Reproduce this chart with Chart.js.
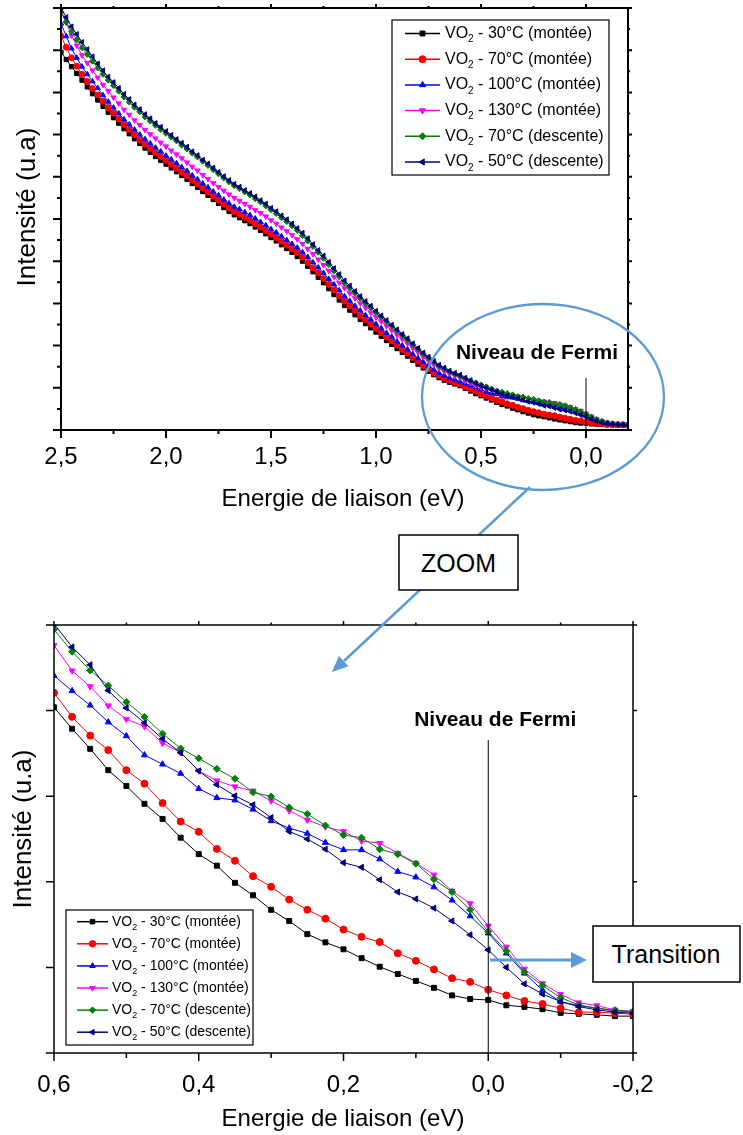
<!DOCTYPE html>
<html>
<head>
<meta charset="utf-8">
<script src="https://cdn.jsdelivr.net/npm/chart.js@4.4.0/dist/chart.umd.min.js"></script>
<style>
html, body { margin: 0; padding: 0; background: #fff; }
#page { position: relative; width: 743px; height: 1135px; overflow: hidden; }
#full { position: absolute; left: 0; top: 0; }
#zoom { position: absolute; left: 0; top: 600px; }
#notes { position: absolute; left: 0; top: 0; }
</style>
</head>
<body>
<div id="page">
<canvas id="full" width="743" height="520"></canvas>
<canvas id="zoom" width="743" height="535"></canvas>
<svg id="notes" width="743" height="1135" viewBox="0 0 743 1135">
  <ellipse cx="543" cy="397" rx="121" ry="93" fill="none" stroke="#5b9bd5" stroke-width="2.3"/>
  <line x1="530" y1="487" x2="344" y2="661" stroke="#5b9bd5" stroke-width="2.5"/>
  <polygon points="332,672 348.5,666.2 338.9,656" fill="#5b9bd5"/>
  <rect x="399" y="535" width="119" height="55" fill="#fff" stroke="#000" stroke-width="1.5"/>
  <text x="458.5" y="572" text-anchor="middle" font-family="Liberation Sans, Arial, sans-serif" font-size="25">ZOOM</text>
  <line x1="490" y1="960" x2="573" y2="960" stroke="#5b9bd5" stroke-width="3"/>
  <polygon points="587,960 571,952 571,968" fill="#5b9bd5"/>
  <rect x="593" y="926" width="147" height="56" fill="#fff" stroke="#000" stroke-width="1.5"/>
  <text x="666" y="963" text-anchor="middle" font-family="Liberation Sans, Arial, sans-serif" font-size="25">Transition</text>
</svg>
</div>
<script>
// binding energy (eV), one point every 0.025 eV
const energy = [
  2.5, 2.475, 2.45, 2.425, 2.4, 2.375, 2.35, 2.325, 2.3, 2.275,
  2.25, 2.225, 2.2, 2.175, 2.15, 2.125, 2.1, 2.075, 2.05, 2.025,
  2.0, 1.975, 1.95, 1.925, 1.9, 1.875, 1.85, 1.825, 1.8, 1.775,
  1.75, 1.725, 1.7, 1.675, 1.65, 1.625, 1.6, 1.575, 1.55, 1.525,
  1.5, 1.475, 1.45, 1.425, 1.4, 1.375, 1.35, 1.325, 1.3, 1.275,
  1.25, 1.225, 1.2, 1.175, 1.15, 1.125, 1.1, 1.075, 1.05, 1.025,
  1.0, 0.975, 0.95, 0.925, 0.9, 0.875, 0.85, 0.825, 0.8, 0.775,
  0.75, 0.725, 0.7, 0.675, 0.65, 0.625, 0.6, 0.575, 0.55, 0.525,
  0.5, 0.475, 0.45, 0.425, 0.4, 0.375, 0.35, 0.325, 0.3, 0.275,
  0.25, 0.225, 0.2, 0.175, 0.15, 0.125, 0.1, 0.075, 0.05, 0.025,
  0.0, -0.025, -0.05, -0.075, -0.1, -0.125, -0.15, -0.175, -0.2
];

const vo2_30_montee = [
  8.95, 8.78, 8.61, 8.45, 8.29, 8.13, 7.97, 7.82, 7.67, 7.53,
  7.40, 7.27, 7.14, 7.02, 6.90, 6.79, 6.68, 6.58, 6.48, 6.39,
  6.30, 6.21, 6.12, 6.03, 5.94, 5.84, 5.75, 5.65, 5.56, 5.46,
  5.37, 5.27, 5.18, 5.10, 5.03, 4.96, 4.89, 4.81, 4.73, 4.65,
  4.56, 4.48, 4.39, 4.30, 4.21, 4.11, 4.00, 3.88, 3.75, 3.62,
  3.49, 3.35, 3.21, 3.08, 2.95, 2.84, 2.73, 2.62, 2.52, 2.42,
  2.32, 2.22, 2.12, 2.03, 1.93, 1.84, 1.75, 1.65, 1.56, 1.47,
  1.39, 1.31, 1.24, 1.18, 1.13, 1.09, 1.050, 0.985, 0.924, 0.859,
  0.811, 0.757, 0.711, 0.654, 0.604, 0.569, 0.517, 0.479, 0.435, 0.401,
  0.361, 0.336, 0.315, 0.288, 0.262, 0.240, 0.219, 0.198, 0.175, 0.164,
  0.161, 0.145, 0.140, 0.133, 0.122, 0.119, 0.116, 0.112, 0.112
];
const vo2_70_montee = [
  9.33, 9.07, 8.82, 8.62, 8.43, 8.26, 8.09, 7.94, 7.79, 7.64,
  7.51, 7.37, 7.24, 7.12, 7.00, 6.88, 6.77, 6.67, 6.57, 6.48,
  6.39, 6.30, 6.20, 6.11, 6.02, 5.92, 5.83, 5.73, 5.64, 5.54,
  5.45, 5.35, 5.26, 5.18, 5.11, 5.04, 4.97, 4.89, 4.81, 4.73,
  4.64, 4.56, 4.47, 4.38, 4.29, 4.20, 4.09, 3.97, 3.84, 3.72,
  3.59, 3.45, 3.32, 3.18, 3.05, 2.94, 2.83, 2.71, 2.61, 2.51,
  2.41, 2.30, 2.20, 2.11, 2.01, 1.91, 1.82, 1.72, 1.63, 1.53,
  1.45, 1.36, 1.29, 1.23, 1.18, 1.13, 1.094, 1.021, 0.964, 0.920,
  0.859, 0.818, 0.759, 0.703, 0.672, 0.620, 0.584, 0.537, 0.505, 0.466,
  0.435, 0.408, 0.375, 0.353, 0.337, 0.303, 0.280, 0.254, 0.227, 0.216,
  0.192, 0.175, 0.158, 0.149, 0.136, 0.124, 0.124, 0.121, 0.118
];
const vo2_100_montee = [
  9.63, 9.33, 9.04, 8.82, 8.61, 8.43, 8.26, 8.10, 7.93, 7.78,
  7.64, 7.50, 7.36, 7.24, 7.12, 7.00, 6.89, 6.79, 6.69, 6.60,
  6.50, 6.41, 6.32, 6.23, 6.14, 6.03, 5.94, 5.84, 5.75, 5.65,
  5.56, 5.46, 5.37, 5.29, 5.23, 5.16, 5.09, 5.01, 4.93, 4.85,
  4.76, 4.68, 4.59, 4.50, 4.41, 4.32, 4.21, 4.10, 3.97, 3.85,
  3.72, 3.58, 3.45, 3.31, 3.17, 3.06, 2.94, 2.83, 2.72, 2.62,
  2.51, 2.41, 2.30, 2.21, 2.10, 2.00, 1.91, 1.80, 1.70, 1.61,
  1.52, 1.43, 1.35, 1.29, 1.23, 1.19, 1.146, 1.100, 1.056, 1.005,
  0.963, 0.905, 0.877, 0.849, 0.803, 0.775, 0.768, 0.740, 0.705, 0.683,
  0.667, 0.639, 0.617, 0.617, 0.589, 0.551, 0.534, 0.504, 0.464, 0.416,
  0.364, 0.303, 0.242, 0.191, 0.156, 0.144, 0.136, 0.128, 0.126
];
const vo2_130_montee = [
  9.95, 9.65, 9.35, 9.11, 8.88, 8.70, 8.52, 8.35, 8.18, 8.03,
  7.88, 7.74, 7.59, 7.47, 7.34, 7.23, 7.11, 7.01, 6.91, 6.81,
  6.72, 6.62, 6.53, 6.44, 6.34, 6.24, 6.15, 6.04, 5.95, 5.85,
  5.76, 5.67, 5.58, 5.50, 5.43, 5.36, 5.29, 5.21, 5.14, 5.06,
  4.97, 4.89, 4.80, 4.71, 4.62, 4.52, 4.41, 4.29, 4.17, 4.04,
  3.91, 3.77, 3.63, 3.49, 3.36, 3.24, 3.12, 3.00, 2.89, 2.78,
  2.67, 2.57, 2.46, 2.36, 2.25, 2.15, 2.05, 1.94, 1.84, 1.73,
  1.64, 1.55, 1.46, 1.39, 1.33, 1.28, 1.238, 1.161, 1.113, 1.055,
  1.014, 0.992, 0.941, 0.913, 0.857, 0.827, 0.809, 0.796, 0.766, 0.736,
  0.708, 0.687, 0.673, 0.644, 0.637, 0.607, 0.577, 0.541, 0.492, 0.454,
  0.386, 0.322, 0.255, 0.211, 0.178, 0.153, 0.144, 0.131, 0.126
];
const vo2_70_descente = [
  9.90, 9.67, 9.44, 9.25, 9.06, 8.90, 8.74, 8.58, 8.43, 8.29,
  8.16, 8.03, 7.89, 7.77, 7.65, 7.54, 7.42, 7.32, 7.22, 7.12,
  7.03, 6.94, 6.85, 6.75, 6.66, 6.56, 6.47, 6.37, 6.27, 6.17,
  6.07, 5.97, 5.88, 5.79, 5.72, 5.64, 5.57, 5.48, 5.40, 5.31,
  5.22, 5.13, 5.03, 4.94, 4.84, 4.73, 4.61, 4.48, 4.35, 4.21,
  4.07, 3.92, 3.77, 3.63, 3.48, 3.36, 3.24, 3.12, 3.00, 2.89,
  2.78, 2.67, 2.56, 2.46, 2.34, 2.24, 2.13, 2.02, 1.91, 1.80,
  1.71, 1.61, 1.52, 1.45, 1.38, 1.33, 1.286, 1.219, 1.162, 1.116,
  1.066, 1.021, 0.970, 0.925, 0.895, 0.863, 0.833, 0.792, 0.779, 0.746,
  0.726, 0.691, 0.662, 0.654, 0.619, 0.604, 0.575, 0.528, 0.489, 0.435,
  0.369, 0.310, 0.246, 0.205, 0.168, 0.146, 0.136, 0.130, 0.126
];
const vo2_50_descente = [
  10.00, 9.78, 9.56, 9.38, 9.19, 9.02, 8.85, 8.68, 8.52, 8.37,
  8.24, 8.10, 7.96, 7.84, 7.71, 7.60, 7.48, 7.38, 7.27, 7.18,
  7.08, 6.99, 6.89, 6.80, 6.71, 6.60, 6.51, 6.40, 6.31, 6.21,
  6.11, 6.01, 5.92, 5.83, 5.76, 5.68, 5.61, 5.53, 5.44, 5.36,
  5.26, 5.18, 5.08, 4.99, 4.89, 4.78, 4.67, 4.54, 4.40, 4.26,
  4.13, 3.98, 3.83, 3.69, 3.54, 3.42, 3.29, 3.17, 3.05, 2.94,
  2.82, 2.71, 2.60, 2.49, 2.38, 2.27, 2.17, 2.05, 1.94, 1.83,
  1.73, 1.63, 1.54, 1.47, 1.40, 1.35, 1.304, 1.233, 1.179, 1.101,
  1.048, 1.003, 0.954, 0.912, 0.857, 0.815, 0.781, 0.754, 0.715, 0.673,
  0.650, 0.619, 0.578, 0.564, 0.526, 0.489, 0.468, 0.440, 0.401, 0.359,
  0.313, 0.260, 0.210, 0.179, 0.156, 0.141, 0.131, 0.124, 0.121
];

const seriesLabels = ['30°C (montée)', '70°C (montée)', '100°C (montée)',
  '130°C (montée)', '70°C (descente)', '50°C (descente)'];

// tick values
const fullXMajor = [2.5, 2.0, 1.5, 1.0, 0.5, 0.0];
const fullXMinor = [2.25, 1.75, 1.25, 0.75, 0.25];
const fullYMajor = [0, 1, 2, 3, 4, 5, 6, 7, 8, 9, 10];
const fullYMinor = [0.5, 1.5, 2.5, 3.5, 4.5, 5.5, 6.5, 7.5, 8.5, 9.5];
const zoomXMajor = [0.6, 0.4, 0.2, 0.0, -0.2];
const zoomXMinor = [0.5, 0.3, 0.1, -0.1];
const zoomYMajor = [0, 0.26, 0.52, 0.78, 1.04, 1.3];

const series = [vo2_30_montee, vo2_70_montee, vo2_100_montee, vo2_130_montee, vo2_70_descente, vo2_50_descente];
const colors = ['#000000', '#ff0000', '#0000ff', '#ff00ff', '#008000', '#000080'];
const shapes = ['rect', 'circle', 'triangle', 'triangle', 'rectRot', 'triangle'];
const rotations = [0, 0, 0, 180, 0, 270];
const FONT = '"Liberation Sans", Arial, sans-serif';

function fmt(v) {
  return v.toFixed(1).replace('.', ',');
}

function buildDatasets(radius) {
  return series.map((vals, i) => ({
    label: 'VO2 - ' + seriesLabels[i],
    data: energy.map((e, j) => ({x: e, y: vals[j]})),
    borderColor: colors[i],
    backgroundColor: colors[i],
    borderWidth: 1,
    pointStyle: shapes[i],
    pointRotation: rotations[i],
    pointRadius: radius,
    pointBorderWidth: 1,
    order: 5 - i
  }));
}

// frame, ticks, tick labels and axis titles
const axesFrame = {
  id: 'axesFrame',
  afterDraw(chart, args, o) {
    const {ctx, chartArea: a, scales: {x, y}} = chart;
    ctx.save();
    ctx.strokeStyle = '#000';
    ctx.lineWidth = o.lineWidth;
    ctx.strokeRect(a.left, a.top, a.right - a.left, a.bottom - a.top);
    ctx.beginPath();
    const xt = o.xMajor.map(v => [v, o.majorLen]).concat(o.xMinor.map(v => [v, o.minorLen]));
    xt.forEach(([v, len]) => {
      const px = x.getPixelForValue(v);
      ctx.moveTo(px, a.bottom); ctx.lineTo(px, a.bottom + len);
      ctx.moveTo(px, a.top); ctx.lineTo(px, a.top - len * 0.5);
    });
    const yt = o.yMajor.map(v => [v, o.yMajorLen]).concat(o.yMinor.map(v => [v, o.minorLen]));
    yt.forEach(([v, len]) => {
      const py = y.getPixelForValue(v);
      ctx.moveTo(a.left, py); ctx.lineTo(a.left - len, py);
      ctx.moveTo(a.right, py); ctx.lineTo(a.right + len * 0.5, py);
    });
    ctx.stroke();

    ctx.fillStyle = '#000';
    ctx.font = '24px ' + FONT;
    ctx.textAlign = 'center';
    ctx.textBaseline = 'alphabetic';
    o.xMajor.forEach(v => {
      ctx.fillText(fmt(v), x.getPixelForValue(v), a.bottom + o.labelBase);
    });
    ctx.fillText('Energie de liaison (eV)', o.xTitleX, a.bottom + o.xTitleBase);
    ctx.font = '26px ' + FONT;
    ctx.translate(o.yTitleX, o.yTitleY);
    ctx.rotate(-Math.PI / 2);
    ctx.textBaseline = 'middle';
    ctx.fillText('Intensité (u.a)', 0, 0);
    ctx.restore();
  }
};

// Fermi level marker
const fermi = {
  id: 'fermi',
  afterDatasetsDraw(chart, args, o) {
    const {ctx, chartArea: a, scales: {x}} = chart;
    const px = x.getPixelForValue(0);
    ctx.save();
    ctx.strokeStyle = '#000';
    ctx.lineWidth = 1;
    ctx.beginPath();
    ctx.moveTo(px, o.lineTop);
    ctx.lineTo(px, a.bottom);
    ctx.stroke();
    ctx.fillStyle = '#000';
    ctx.font = 'bold 21px ' + FONT;
    ctx.textAlign = 'center';
    ctx.textBaseline = 'alphabetic';
    ctx.fillText('Niveau de Fermi', px + o.textDx, o.textBase);
    ctx.restore();
  }
};

// legend with a subscript 2 in VO2
const vo2Legend = {
  id: 'vo2Legend',
  afterDraw(chart, args, o) {
    const ctx = chart.ctx;
    ctx.save();
    ctx.fillStyle = '#fff';
    ctx.fillRect(o.left, o.top, o.width, o.height);
    ctx.strokeStyle = '#000';
    ctx.lineWidth = 1.2;
    ctx.strokeRect(o.left, o.top, o.width, o.height);
    chart.data.datasets.forEach((ds, i) => {
      const yy = o.rowY + i * o.rowStep;
      ctx.strokeStyle = ds.borderColor;
      ctx.lineWidth = 1.5;
      ctx.beginPath();
      ctx.moveTo(o.lineX0, yy);
      ctx.lineTo(o.lineX1, yy);
      ctx.stroke();
      ctx.fillStyle = ds.backgroundColor;
      ctx.lineWidth = 1;
      Chart.helpers.drawPoint(ctx, {pointStyle: ds.pointStyle, rotation: ds.pointRotation,
        radius: o.radius, borderWidth: 1}, (o.lineX0 + o.lineX1) / 2, yy);
      ctx.fillStyle = '#000';
      ctx.textAlign = 'left';
      ctx.textBaseline = 'middle';
      let tx = o.textX;
      ctx.font = o.size + 'px ' + FONT;
      ctx.fillText('VO', tx, yy);
      tx += ctx.measureText('VO').width;
      ctx.font = Math.round(o.size * 0.62) + 'px ' + FONT;
      ctx.fillText('2', tx, yy + o.size * 0.38);
      tx += ctx.measureText('2').width;
      ctx.font = o.size + 'px ' + FONT;
      ctx.fillText(' - ' + seriesLabels[i], tx, yy);
    });
    ctx.restore();
  }
};

new Chart(document.getElementById('full'), {
  type: 'line',
  data: {datasets: buildDatasets(3)},
  plugins: [fermi, axesFrame, vo2Legend],
  options: {
    responsive: false,
    animation: false,
    events: [],
    layout: {padding: {left: 61, right: 115, top: 8, bottom: 90}},
    scales: {
      x: {type: 'linear', min: -0.2, max: 2.5, reverse: true, display: false},
      y: {type: 'linear', min: 0, max: 10, display: false}
    },
    plugins: {
      legend: {display: false},
      tooltip: {enabled: false},
      axesFrame: {lineWidth: 2, xMajor: fullXMajor, xMinor: fullXMinor, yMajor: fullYMajor, yMinor: fullYMinor,
        majorLen: 8, yMajorLen: 8, minorLen: 4, labelBase: 34, xTitleX: 343, xTitleBase: 76,
        yTitleX: 28, yTitleY: 207},
      fermi: {lineTop: 378, textDx: -49, textBase: 359},
      vo2Legend: {left: 392, top: 20, width: 217, height: 155, rowY: 33.5, rowStep: 25.7,
        lineX0: 405, lineX1: 440, textX: 445, size: 16, radius: 3.5}
    }
  }
});

new Chart(document.getElementById('zoom'), {
  type: 'line',
  data: {datasets: buildDatasets(3.5)},
  plugins: [fermi, axesFrame, vo2Legend],
  options: {
    responsive: false,
    animation: false,
    events: [],
    layout: {padding: {left: 54, right: 110, top: 25, bottom: 82}},
    scales: {
      x: {type: 'linear', min: -0.2, max: 0.6, reverse: true, display: false},
      y: {type: 'linear', min: 0, max: 1.3, display: false}
    },
    plugins: {
      legend: {display: false},
      tooltip: {enabled: false},
      axesFrame: {lineWidth: 1.5, xMajor: zoomXMajor, xMinor: zoomXMinor, yMajor: zoomYMajor, yMinor: [],
        majorLen: 8, yMajorLen: 8, minorLen: 5, labelBase: 39, xTitleX: 343, xTitleBase: 73,
        yTitleX: 24, yTitleY: 229},
      fermi: {lineTop: 140, textDx: 7, textBase: 126},
      vo2Legend: {left: 66, top: 310, width: 187, height: 135, rowY: 321.7, rowStep: 22.1,
        lineX0: 77, lineX1: 108, textX: 112, size: 14, radius: 3.2}
    }
  }
});
</script>
</body>
</html>
